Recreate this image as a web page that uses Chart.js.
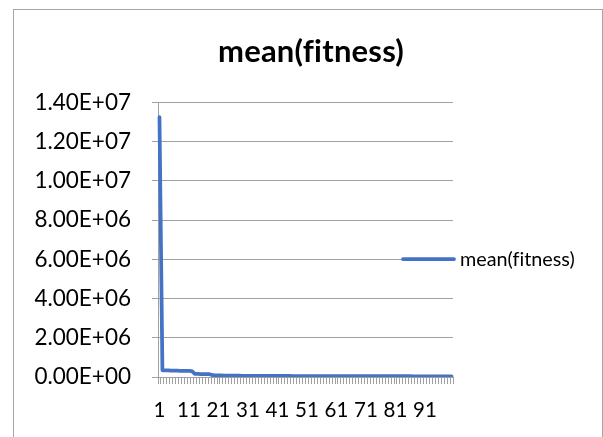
<!DOCTYPE html>
<html>
<head>
<meta charset="utf-8">
<script src="https://cdn.jsdelivr.net/npm/chart.js@4"></script>
<style>
  html, body { margin: 0; padding: 0; background: #fff; }
  canvas { display: block; }
</style>
</head>
<body>
<canvas id="c" width="603" height="437"></canvas>
<script>
const chartTitle = 'mean(fitness)';
const seriesName = 'mean(fitness)';

const categories = [];
for (let i = 1; i <= 100; i++) categories.push(String(i));

const meanFitness = [
  13250000, 340000, 336000, 332000, 328000, 325000, 322000, 318000, 315000, 312000,
  308000, 304000, 160000, 156000, 152000, 149000, 146000, 142000, 92000, 86000,
  82000, 78000, 75000, 72000, 70000, 68000, 66000, 64000, 63000, 62000,
  61000, 60000, 59000, 58000, 57000, 56000, 55500, 55000, 54500, 54000,
  53500, 53000, 52500, 52000, 51500, 51000, 50500, 50000, 49500, 49000,
  48500, 48000, 47800, 47500, 47200, 47000, 46700, 46400, 46100, 45800,
  45500, 45200, 45000, 44700, 44400, 44100, 43800, 43500, 43200, 43000,
  42700, 42400, 42100, 41800, 41500, 41200, 41000, 40700, 40400, 40100,
  39800, 39500, 39200, 39000, 38700, 38400, 38100, 37800, 37500, 37200,
  37000, 36700, 36400, 36100, 35800, 35500, 35200, 35000, 34700, 34400
];

const yTicks = [0, 2000000, 4000000, 6000000, 8000000, 10000000, 12000000, 14000000];

function sci(v) {
  if (v === 0) return '0.00E+00';
  const e = Math.floor(Math.log10(Math.abs(v)) + 1e-9);
  const m = v / Math.pow(10, e);
  const es = (e < 0 ? '-' : '+') + String(Math.abs(e)).padStart(2, '0');
  return m.toFixed(2) + 'E' + es;
}

const FONT = 'Lato';
const GRID = '#a0a0a0';
const LINE = '#4472C4';

function noLig(ctx) {
  try { ctx.textRendering = 'optimizeSpeed'; } catch (e) {}
  try { ctx.letterSpacing = '0.2px'; } catch (e) {}
}

const frame = {
  id: 'frame',
  beforeDraw(chart) {
    const ctx = chart.ctx;
    ctx.save();
    ctx.fillStyle = '#fff';
    ctx.fillRect(0, 0, chart.width, chart.height);
    ctx.strokeStyle = '#a6a6a6';
    ctx.lineWidth = 1;
    ctx.strokeRect(13.5, 9.5, 589, 440);
    ctx.restore();
  }
};

const titleAndLegend = {
  id: 'titleAndLegend',
  afterDraw(chart) {
    const ds = chart.data.datasets[0];
    const ctx = chart.ctx;
    ctx.save();
    noLig(ctx);
    ctx.fillStyle = '#000';
    ctx.font = 'bold 31px ' + FONT;
    ctx.textBaseline = 'middle';
    ctx.textAlign = 'center';
    ctx.fillText(chartTitle, 311, 52);

    ctx.strokeStyle = ds.borderColor;
    ctx.lineWidth = ds.borderWidth;
    ctx.lineCap = 'round';
    ctx.beginPath();
    ctx.moveTo(403, 259);
    ctx.lineTo(454, 259);
    ctx.stroke();
    ctx.font = '19.8px ' + FONT;
    ctx.letterSpacing = '0px';
    ctx.textAlign = 'left';
    ctx.fillText(ds.label, 460, 260);
    ctx.restore();
  }
};

new Chart(document.getElementById('c'), {
  type: 'line',
  data: {
    labels: categories,
    datasets: [{
      label: seriesName,
      data: meanFitness,
      borderColor: LINE,
      backgroundColor: LINE,
      borderWidth: 3.75,
      pointRadius: 0,
      tension: 0,
      borderCapStyle: 'round',
      borderJoinStyle: 'round',
      fill: false
    }]
  },
  options: {
    responsive: false,
    animation: false,
    devicePixelRatio: 1,
    layout: { padding: { left: 14, top: 102.5, right: 150, bottom: 0 } },
    plugins: {
      legend: { display: false },
      tooltip: { enabled: false },
      title: { display: false }
    },
    scales: {
      x: {
        offset: true,
        grid: { drawOnChartArea: false, offset: true, tickLength: 7, color: GRID },
        border: { display: true, color: GRID },
        ticks: {
          autoSkip: false,
          maxRotation: 0,
          minRotation: 0,
          padding: 14,
          color: '#000',
          font: { family: FONT, size: 20.5 },
          callback: function (v, i) { return i % 10 === 0 ? this.getLabelForValue(v) : ''; }
        },
        afterFit(scale) { scale.height = 60; }
      },
      y: {
        min: 0,
        max: 14000000,
        afterBuildTicks(scale) { scale.ticks = yTicks.map(v => ({ value: v })); },
        grid: { color: GRID, tickLength: 6 },
        border: { display: true, color: GRID },
        ticks: {
          padding: 21,
          color: '#000',
          font: { family: FONT, size: 22.5 },
          callback: v => sci(v)
        },
        afterFit(scale) { scale.width = 144; }
      }
    }
  },
  plugins: [frame, titleAndLegend]
});
</script>
</body>
</html>
